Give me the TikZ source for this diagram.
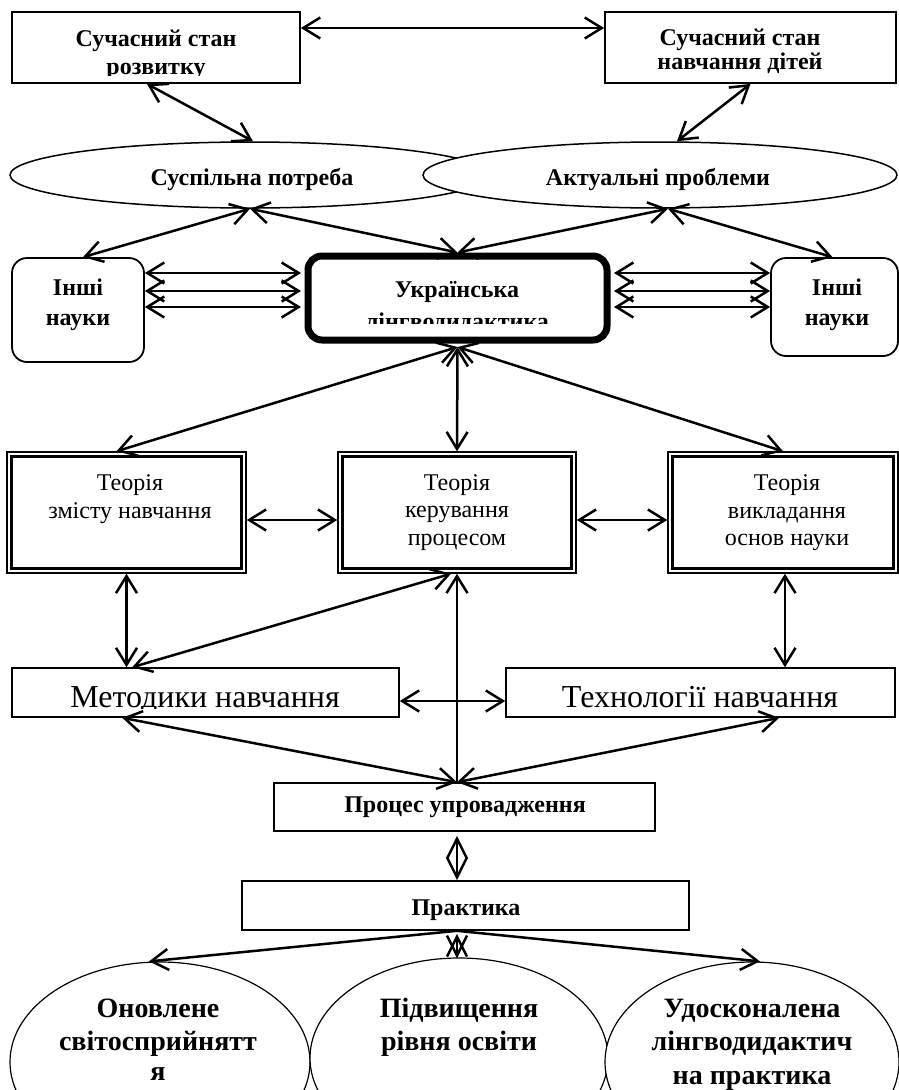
\documentclass[tikz,border=0pt]{standalone}
\usepackage{fontspec}
\setmainfont{Liberation Serif}
\usetikzlibrary{arrows.meta,shapes.geometric,calc}
\tikzset{
  box/.style={draw, line width=1.8pt, inner sep=0pt, fill=white},
  ell/.style={draw, ellipse, line width=1.5pt, inner sep=0pt, fill=white},
  bt/.style={font=\fontsize{24}{28}\selectfont\bfseries, inner sep=0pt, anchor=base},
  rt/.style={font=\fontsize{24}{28}\selectfont, inner sep=0pt, anchor=base},
  bigt/.style={font=\fontsize{32}{35}\selectfont, inner sep=0pt, anchor=base},
  ebt/.style={font=\fontsize{28}{31}\selectfont\bfseries, inner sep=0pt, anchor=base},
  tip/.tip={Straight Barb[length=17pt,width=21pt]},
  ntip/.tip={Straight Barb[length=20pt,width=20pt]},
  arr/.style={line width=2.5pt, -tip},
  dbl/.style={line width=2.5pt, tip-tip},
  ndbl/.style={line width=2.5pt, ntip-ntip},
}
\begin{document}
\begin{tikzpicture}[x=1pt,y=-1pt]
\useasboundingbox (0,0) rectangle (899,1090);
\clip (0,0) rectangle (899,1090);
\fill[white] (0,0) rectangle (899,1090);

% top boxes
\node[box, minimum width=288pt, minimum height=71pt] (sr) at (156,47.5) {};
\node[box, minimum width=291pt, minimum height=71pt] (sn) at (750.5,47.5) {};
\begin{scope}
\clip (sr.north west) rectangle ($(sr.south east)+(0,-8)$);
\node[bt] (sr1) at (156,46) {Сучасний стан};
\node[bt] (sr2) at (156,74) {розвитку};
\end{scope}
\node[bt] (sn1) at (740,45) {Сучасний стан};
\node[bt] (sn2) at (740,69) {навчання дітей};

% ellipses
\node[ell, minimum width=480pt, minimum height=66pt] (e1) at (250,175) {};
\node[ell, minimum width=474pt, minimum height=66pt] (e2) at (660,175) {};
\node[bt] (e1t) at (252,185) {Суспільна потреба};
\node[bt] (e2t) at (658,185) {Актуальні проблеми};

% other sciences
\node[box, rounded corners=15pt, minimum width=132pt, minimum height=104pt] (il) at (78,310) {};
\node[box, rounded corners=15pt, minimum width=127pt, minimum height=98pt] (ir) at (834.5,307) {};
\node[bt] (il1) at (78,295) {Інші};
\node[bt] (il2) at (78,325) {науки};
\node[bt] (ir1) at (837,295) {Інші};
\node[bt] (ir2) at (837,325) {науки};

% central box
\node[draw, line width=7pt, rounded corners=14pt, fill=white, inner sep=0pt, minimum width=299pt, minimum height=84pt] (ul) at (457.5,298) {};
\node[bt] (ul1) at (457,297) {Українська};
\begin{scope}
\clip (310,260) rectangle (605,323);
\node[bt] (ul2) at (457,329) {лінгводидактика};
\end{scope}

% theory boxes
\node[box, line width=1.5pt, minimum width=239pt, minimum height=121pt] (t1) at (126.5,512.5) {};
\node[box, line width=1.5pt, minimum width=238pt, minimum height=121pt] (t2) at (457,512.5) {};
\node[box, line width=1.5pt, minimum width=230pt, minimum height=121pt] (t3) at (783,512.5) {};
\foreach \t in {t1,t2,t3}{
  \draw[line width=2.6pt] ($(\t.south west)+(5.5,-5.5)$) rectangle ($(\t.north east)+(-5.5,5.5)$);
}
\node[rt] (t1a) at (130,490) {Теорія};
\node[rt] (t1b) at (130,518) {змісту навчання};
\node[rt] (t2a) at (457,490) {Теорія};
\node[rt] (t2b) at (457,517) {керування};
\node[rt] (t2c) at (457,545) {процесом};
\node[rt] (t3a) at (787,490) {Теорія};
\node[rt] (t3b) at (787,518) {викладання};
\node[rt] (t3c) at (787,545) {основ науки};

% methods / technologies
\node[box, line width=1.6pt, minimum width=387pt, minimum height=49pt] (m1) at (205.5,692.5) {};
\node[box, line width=1.6pt, minimum width=389pt, minimum height=49pt] (m2) at (700.5,692.5) {};
\begin{scope}
\clip (m1.north west) rectangle ($(m1.south east)+(0,-9.5)$);
\node[bigt] (m1t) at (205,707) {Методики навчання};
\end{scope}
\begin{scope}
\clip (m2.north west) rectangle ($(m2.south east)+(0,-9.5)$);
\node[bigt] (m2t) at (700,707) {Технології навчання};
\end{scope}

% process, practice
\node[box, line width=1.6pt, minimum width=381pt, minimum height=48pt] (proc) at (464.5,807) {};
\node[bt] (proct) at (465,812) {Процес упровадження};
\node[box, line width=1.6pt, minimum width=447pt, minimum height=49pt] (pr) at (465.5,905.5) {};
\node[bt] (prt) at (466,915) {Практика};

% bottom ellipses
\node[ell, line width=1.2pt, minimum width=300pt, minimum height=200pt] (b1) at (160,1062) {};
\node[ell, line width=1.2pt, minimum width=298pt, minimum height=200pt] (b2) at (459,1058) {};
\node[ell, line width=1.2pt, minimum width=294pt, minimum height=200pt] (b3) at (752,1062) {};
\node[ebt] (b1a) at (158,1017) {Оновлене};
\node[ebt] (b1b) at (158,1050) {світосприйнятт};
\node[ebt] (b1c) at (158,1080) {я};
\node[ebt] (b2a) at (459,1017) {Підвищення};
\node[ebt] (b2b) at (459,1050) {рівня освіти};
\node[ebt] (b3a) at (752,1017) {Удосконалена};
\node[ebt] (b3b) at (752,1050) {лінгводидактич};
\node[ebt] (b3c) at (752,1084) {на практика};

% helper coordinate for central vertical axis
\coordinate (cx) at (457,0);

% connectors
\draw[dbl] (sr.east |- 0,28) -- (sn.west |- 0,28);
\draw[dbl] ($(sr.south)+(-9,0)$) -- ($(e1.north)+(3,0)$);
\draw[dbl] (sn.south) -- ($(e2.north)+(17,0)$);
\draw[dbl] (e1.south) -- ($(il.north)+(5,0)$);
\draw[dbl] (e1.south) -- (ul.north);
\draw[dbl] ($(e2.south)+(8,0)$) -- (ul.north);
\draw[dbl] ($(e2.south)+(8,0)$) -- ($(ir.north)+(-2,0)$);
\foreach \yy in {273,291,307}{
  \draw[dbl] (il.east |- 0,\yy) -- ($(ul.west |- 0,\yy)+(-3.5,0)$);
  \draw[dbl] ($(ul.east |- 0,\yy)+(3.5,0)$) -- (ir.west |- 0,\yy);
}
\draw[dbl] ($(ul.south)+(0,3.5)$) -- ($(t1.north)+(-10,0)$);
\draw[dbl] ($(ul.south)+(0,3.5)$) -- (cx |- t2.north);
\draw[dbl] ($(ul.south)+(0,3.5)$) -- (t3.north);
\draw[dbl] (t1.east |- 0,520) -- (t2.west |- 0,520);
\draw[dbl] (t2.east |- 0,520) -- (t3.west |- 0,520);
\draw[dbl] (t1.south) -- (t1.south |- m1.north);
\draw[dbl] ($(t3.south)+(2,0)$) -- ($(t3.south |- m2.north)+(2,0)$);
\draw[dbl] ($(m1.north west)+(121,0)$) -- ($(cx |- t2.south)+(-6,0)$);
\draw[arr] (cx |- proc.north) -- (cx |- t2.south);
\draw[dbl] (m1.east |- 0,701) -- (m2.west |- 0,701);
\draw[dbl] ($(m1.south west)+(111,0)$) -- (cx |- proc.north);
\draw[dbl] ($(m2.south west)+(274,0)$) -- (cx |- proc.north);
\draw[ndbl] ($(cx |- proc.south)+(0,4)$) -- (cx |- pr.north);
\draw[arr] (cx |- pr.south) -- ($(b1.north)+(-11,0)$);
\draw[ndbl] ($(cx |- pr.south)+(0,3)$) -- ($(b2.north)+(-2,1)$);
\draw[arr] (cx |- pr.south) -- ($(b3.north)+(8,0)$);
\end{tikzpicture}
\end{document}
